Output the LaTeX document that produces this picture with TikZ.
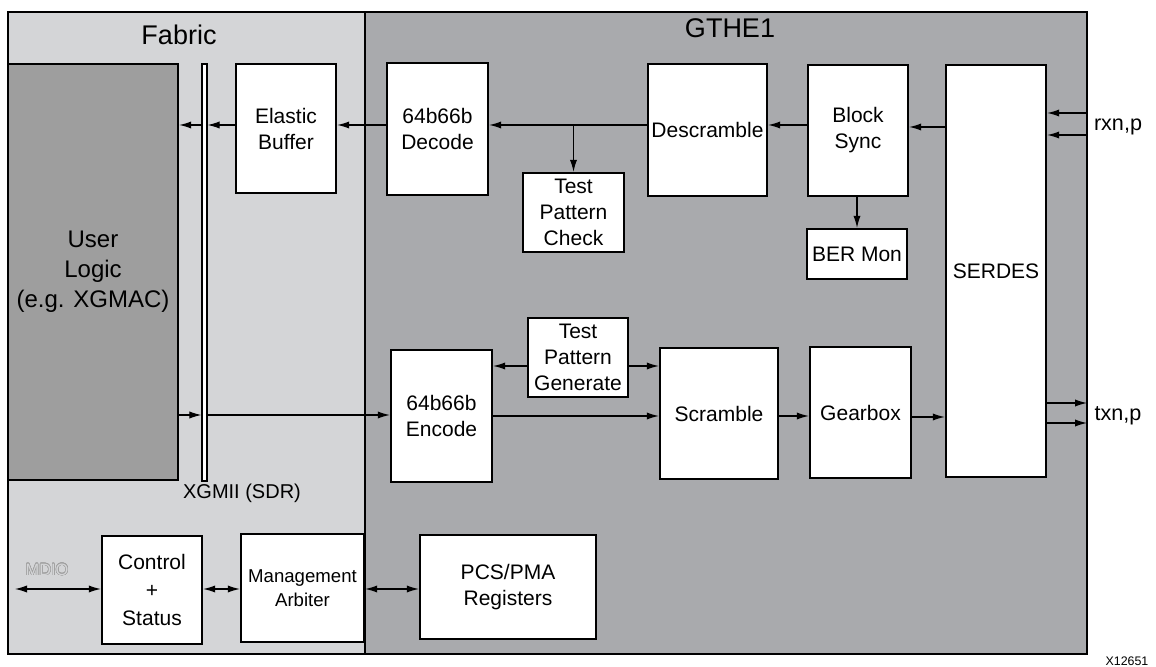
\documentclass[tikz,border=0pt]{standalone}
\usepackage{fontspec}
\setmainfont{Liberation Sans}
\usepackage{contour}
\contourlength{0.28pt}
\usetikzlibrary{arrows.meta}
\definecolor{fabgray}{HTML}{D4D5D7}
\definecolor{gtgray}{HTML}{A9AAAD}
\definecolor{ulgray}{HTML}{9E9E9E}
\newcommand{\fsbox}{\fontsize{10.5}{13}\selectfont}
\tikzset{
  region/.style={draw, line width=1.3pt, inner sep=0pt},
  box/.style={draw, line width=1.2pt, fill=white, inner sep=0pt, align=center, font=\fsbox},
  arr/.style={-{Latex[length=6pt,width=3.6pt]}, line width=0.55pt},
  darr/.style={{Latex[length=6pt,width=3.6pt]}-{Latex[length=6pt,width=3.6pt]}, line width=0.55pt},
  lbl/.style={inner sep=0pt, align=center}
}
\begin{document}
\begin{tikzpicture}[x=0.5pt,y=-0.5pt]
\useasboundingbox (0,0) rectangle (1156,667);
% regions
\node[region, fill=fabgray, minimum width=178.5pt, minimum height=321pt] (fab) at (186.5,333) {};
\node[region, fill=gtgray, minimum width=361pt, minimum height=321pt] (gt) at (726,333) {};
\node[lbl, font=\fontsize{13.5}{15}\selectfont] (fabl) at (179,35) {Fabric};
\node[lbl, font=\fontsize{13.5}{15}\selectfont] (gtl) at (730,28) {GTHE1};
% fabric blocks
\node[box, fill=ulgray, font=\fontsize{12}{15}\selectfont, minimum width=85pt, minimum height=208pt] (ul) at (93,272) {User\\Logic\\(e.g. XGMAC)};
\node[draw, line width=0.6pt, fill=white, inner sep=0pt, minimum width=2.5pt, minimum height=208.5pt] (xg) at (204.5,272.5) {};
\node[lbl, font=\fontsize{10}{12}\selectfont] (xgl) at (242,493) {XGMII (SDR)};
\node[box, minimum width=50pt, minimum height=64.5pt] (eb) at (286,128.5) {Elastic\\Buffer};
\node[box, font=\fontsize{10.5}{14}\selectfont, minimum width=50pt, minimum height=54pt] (ctl) at (152,590) {Control\\+\\Status};
\node[box, font=\fontsize{9.3}{12}\selectfont, minimum width=61.5pt, minimum height=54pt] (mg) at (302.5,588) {Management\\Arbiter};
\node[lbl, font=\fontsize{8.2}{10}\selectfont] (mdiol) at (47,570) {\contour{gray!75}{\textcolor{fabgray}{MDIO}}};
% GTHE1 blocks
\node[box, minimum width=50.5pt, minimum height=66pt] (dec) at (437.5,129) {64b66b\\Decode};
\node[box, minimum width=50.5pt, minimum height=39.5pt] (tpc) at (573.5,212.5) {Test\\Pattern\\Check};
\node[box, minimum width=59.5pt, minimum height=66pt] (ds) at (707.5,130) {Descramble};
\node[box, minimum width=50pt, minimum height=65.5pt] (bs) at (858,130.5) {Block\\Sync};
\node[box, minimum width=50pt, minimum height=25pt] (ber) at (857,254) {BER Mon};
\node[box, minimum width=50pt, minimum height=206pt] (serdes) at (996,271) {SERDES};
\node[box, minimum width=50pt, minimum height=39.5pt] (tpg) at (578,357.5) {Test\\Pattern\\Generate};
\node[box, minimum width=50.5pt, minimum height=66pt] (enc) at (441.5,416) {64b66b\\Encode};
\node[box, minimum width=59pt, minimum height=65.5pt] (scr) at (719,413.5) {Scramble};
\node[box, minimum width=50.5pt, minimum height=65.5pt] (gb) at (860.5,412.5) {Gearbox};
\node[box, minimum width=88pt, minimum height=52pt] (pcs) at (508,587) {PCS/PMA\\Registers};
% external labels
\node[lbl, font=\fontsize{10.8}{13}\selectfont] (rxl) at (1118,127) {rxn,p};
\node[lbl, font=\fontsize{10.8}{13}\selectfont] (txl) at (1118,416) {txn,p};
\node[lbl, font=\fontsize{6.2}{8}\selectfont] (fig) at (1127,661) {X12651};
% row coordinates
\coordinate (rowR) at (0,125);
\coordinate (rowS) at (0,127);
\coordinate (rowT) at (0,415);
\coordinate (rowU) at (0,416);
\coordinate (rowV) at (0,417);
\coordinate (rowG) at (0,366);
\coordinate (rx1) at (1087,113);
\coordinate (rx2) at (1087,135);
\coordinate (tx1) at (1087,403);
\coordinate (tx2) at (1087,423);
\coordinate (mdio) at (15,589);
% receive path
\draw[arr] (rx1) -- (serdes.east |- rx1);
\draw[arr] (rx2) -- (serdes.east |- rx2);
\draw[arr] (serdes.west |- rowS) -- (bs.east |- rowS);
\draw[arr] (bs.west |- rowR) -- (ds.east |- rowR);
\draw[arr] (ds.west |- rowR) -- (dec.east |- rowR);
\draw[arr] (tpc.north |- rowR) -- (tpc.north);
\draw[arr] (bs.south -| ber.north) -- (ber.north);
\draw[arr] (dec.west |- rowR) -- (eb.east |- rowR);
\draw[arr] (eb.west |- rowR) -- (xg.east |- rowR);
\draw[arr] (xg.west |- rowR) -- (ul.east |- rowR);
% transmit path
\draw[arr] (ul.east |- rowT) -- (xg.west |- rowT);
\draw[arr] (xg.east |- rowT) -- (enc.west |- rowT);
\draw[arr] (enc.east |- rowU) -- (scr.west |- rowU);
\draw[arr] (scr.east |- rowU) -- (gb.west |- rowU);
\draw[arr] (gb.east |- rowV) -- (serdes.west |- rowV);
\draw[arr] (tpg.west |- rowG) -- (enc.east |- rowG);
\draw[arr] (tpg.east |- rowG) -- (scr.west |- rowG);
\draw[arr] (serdes.east |- tx1) -- (tx1);
\draw[arr] (serdes.east |- tx2) -- (tx2);
% management
\draw[darr] (mdio) -- (ctl.west |- mdio);
\draw[darr] (ctl.east |- mdio) -- (mg.west |- mdio);
\draw[darr] (mg.east |- mdio) -- (pcs.west |- mdio);
\end{tikzpicture}
\end{document}
